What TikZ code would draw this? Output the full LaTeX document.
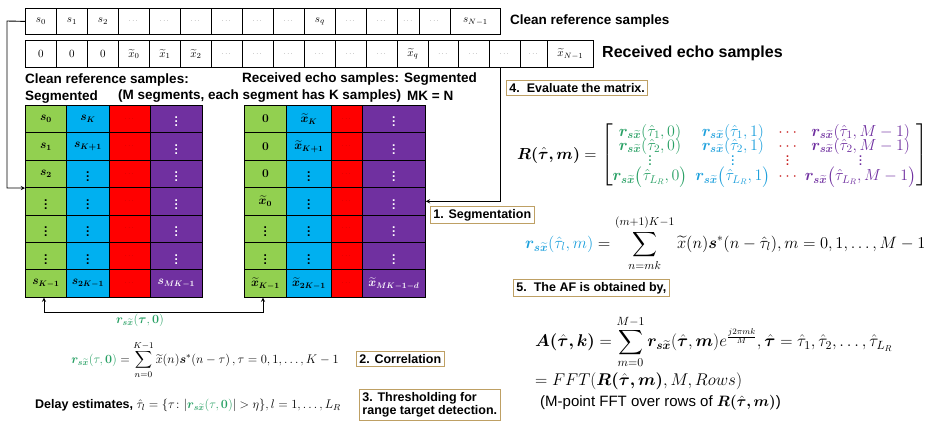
\documentclass[tikz,border=0pt]{standalone}
\usepackage{fix-cm}
\usepackage{fontspec}
\setmainfont{Liberation Sans}
\usepackage{amsmath,bm}
\usetikzlibrary{positioning}
\definecolor{cgreen}{RGB}{146,208,80}
\definecolor{cblue}{RGB}{0,176,240}
\definecolor{cred}{RGB}{255,0,0}
\definecolor{cpurple}{RGB}{112,48,160}
\definecolor{tgreen}{RGB}{40,160,100}
\definecolor{tblue}{RGB}{30,160,220}
\definecolor{tred}{RGB}{200,30,30}
\definecolor{tpurple}{RGB}{112,48,160}
\definecolor{boxtan}{RGB}{190,160,100}
\tikzset{
  cell/.style={draw, line width=0.8pt, inner sep=0pt, anchor=north west, font=\fontsize{11}{12}\selectfont},
  mcell/.style={draw, line width=0.8pt, inner sep=0pt, anchor=north west, font=\fontsize{12}{14}\selectfont, minimum height=27.4pt},
  stepbox/.style={draw=boxtan, line width=0.9pt, fill=white, inner sep=3pt, font=\bfseries\fontsize{12.5}{13.5}\selectfont, align=left},
  lbl/.style={font=\bfseries\fontsize{13.5}{15}\selectfont, inner sep=0pt, anchor=west},
  eq/.style={inner sep=0pt, anchor=west, font=\fontsize{16.5}{20}\selectfont},
  conn/.style={line width=0.9pt, ->, >=stealth}
}
\newcommand{\rsx}{\bm{r}_{\bm{s}\widetilde{\bm{x}}}}
\newcommand{\dts}{\tiny$\cdots$}
\begin{document}
\begin{tikzpicture}[x=1pt,y=-1pt]
\useasboundingbox (0,0) rectangle (941,426);
% raw sample strips
\foreach \i/\x/\w/\t in {1/25/31/{$s_0$},2/56/31/{$s_1$},3/87/31/{$s_2$},4/118/31/\dts,5/149/31/\dts,6/180/31/\dts,7/211/31/\dts,8/242/31/\dts,9/273/31/\dts,10/304/31/{$s_q$},11/335/31/\dts,12/366/31/\dts,13/397/22/\dts,14/419/31/\dts,15/450/50/{$s_{N-1}$}}
  \node[cell, minimum width=\w pt, minimum height=26pt] (t\i) at (\x,8) {\t};
\foreach \i/\x/\w/\t in {1/25/31/{$0$},2/56/31/{$0$},3/87/31/{$0$},4/118/31/{$\widetilde{x}_0$},5/149/31/{$\widetilde{x}_1$},6/180/31/{$\widetilde{x}_2$},7/211/31/\dts,8/242/31/\dts,9/273/31/\dts,10/304/31/\dts,11/335/31/\dts,12/366/31/\dts,13/397/31/{$\widetilde{x}_q$},14/428/30/\dts,15/458/31/\dts,16/489/31/\dts,17/520/27/\dts,18/547/46/{$\widetilde{x}_{N-1}$}}
  \node[cell, minimum width=\w pt, minimum height=27pt] (e\i) at (\x,40) {\t};
\node[lbl] (cleanlbl) at (510,21) {Clean reference samples};
\node[lbl, font=\bfseries\fontsize{16}{18}\selectfont] (echolbl) at (602,53) {Received echo samples};
% headings over the matrices
\node[lbl] (seglbl) at (25,80) {Clean reference samples:};
\node[lbl] at (25,97) {Segmented};
\node[lbl] at (118,96) {(M segments, each segment has K samples)};
\node[lbl] at (242,79) {Received echo samples: Segmented};
\node[lbl] at (407,96) {MK = N};
% segmented matrices
\foreach \r/\a/\b/\d in {1/{s_0}/{s_K}/{\vdots},2/{s_1}/{s_{K+1}}/{\vdots},3/{s_2}/{\vdots}/{\vdots},4/{\vdots}/{\vdots}/{\vdots},5/{\vdots}/{\vdots}/{\vdots},6/{\vdots}/{\vdots}/{\vdots},7/{s_{K-1}}/{s_{2K-1}}/{s_{MK-1}}} {
  \node[mcell, fill=cgreen, minimum width=41pt] (L\r a) at (25,105+27.4*\r-27.4) {$\bm{\a}$};
  \node[mcell, fill=cblue, minimum width=43pt] (L\r b) at (66,105+27.4*\r-27.4) {$\bm{\b}$};
  \node[mcell, fill=cred, text=red!55!black, minimum width=41pt] (L\r c) at (109,105+27.4*\r-27.4) {\dts};
  \node[mcell, fill=cpurple, text=white, minimum width=52pt] (L\r d) at (150,105+27.4*\r-27.4) {$\bm{\d}$};
}
\foreach \r/\a/\b/\d in {1/{0}/{\widetilde{x}_K}/{\vdots},2/{0}/{\widetilde{x}_{K+1}}/{\vdots},3/{0}/{\vdots}/{\vdots},4/{\widetilde{x}_0}/{\vdots}/{\vdots},5/{\vdots}/{\vdots}/{\vdots},6/{\vdots}/{\vdots}/{\vdots},7/{\widetilde{x}_{K-1}}/{\widetilde{x}_{2K-1}}/{\widetilde{x}_{MK-1-d}}} {
  \node[mcell, fill=cgreen, minimum width=42pt] (R\r a) at (244,105+27.4*\r-27.4) {$\bm{\a}$};
  \node[mcell, fill=cblue, minimum width=45pt] (R\r b) at (286,105+27.4*\r-27.4) {$\bm{\b}$};
  \node[mcell, fill=cred, text=red!55!black, minimum width=31pt] (R\r c) at (331,105+27.4*\r-27.4) {\dts};
  \node[mcell, fill=cpurple, text=white, minimum width=63pt] (R\r d) at (362,105+27.4*\r-27.4) {$\bm{\d}$};
}
% connectors
\coordinate (lturn) at (7,21);
\draw[conn] (t1.west) -- (lturn) |- (L3a.south west);
\coordinate (rturn) at (500,67);
\draw[conn] (rturn) |- (R4d.east);
\coordinate (bleft) at (44,312);
\coordinate (bright) at (263,312);
\draw[conn] (bleft) -- (bright) -- (bright |- R7a.south);
\draw[conn] (bleft) -- (bleft |- L7a.south);
\node[text=tgreen, inner sep=0pt, font=\fontsize{12.5}{14}\selectfont] (corrlbl) at (140,320) {$\rsx(\bm\tau,\bm0)$};
% steps
\node[stepbox, anchor=west] (s1) at (430,215) {1. Segmentation};
\node[stepbox, anchor=west] (s2) at (356,359) {2. Correlation};
\node[stepbox, anchor=west] (s3) at (359,405) {3. Thresholding for\\range target detection.};
\node[stepbox, anchor=west] (s4) at (506,88) {4.\ \ Evaluate the matrix.};
\node[stepbox, anchor=west] (s5) at (513,288) {5.\ \ The AF is obtained by,};
% equations
\node[eq, anchor=center, font=\fontsize{12.5}{14}\selectfont] (correq) at (205,360) {$\displaystyle {\color{tgreen}\rsx(\tau,\bm0)} = \sum_{n=0}^{K-1}\widetilde{x}(n)\bm{s}^*(n-\tau)\,,\tau=0,1,\dots,K-1$};
\node[lbl, font=\bfseries\fontsize{12.5}{14}\selectfont] (delay) at (35,405) {Delay estimates, $\hat\tau_l=\{\tau\colon|{\color{tgreen}\rsx(\tau,\bm0)}|>\eta\},l=1,\dots,L_R$};
\node[eq, font=\fontsize{16}{19}\selectfont] (Req) at (517,155) {\setlength{\arraycolsep}{4pt}$\bm{R(\hat{\tau},m)}=\left[\begin{array}{@{}cccc@{}}
{\color{tgreen}\rsx(\hat\tau_1,0)} & {\color{tblue}\rsx(\hat\tau_1,1)} & {\color{tred}\cdots} & {\color{tpurple}\rsx(\hat\tau_1,M-1)}\\[-5pt]
{\color{tgreen}\rsx(\hat\tau_2,0)} & {\color{tblue}\rsx(\hat\tau_2,1)} & {\color{tred}\cdots} & {\color{tpurple}\rsx(\hat\tau_2,M-1)}\\[-6pt]
{\color{tgreen}\vdots} & {\color{tblue}\vdots} & {\color{tred}\vdots} & {\color{tpurple}\vdots}\\[-5pt]
{\color{tgreen}\rsx\big(\hat\tau_{L_R},0\big)} & {\color{tblue}\rsx\big(\hat\tau_{L_R},1\big)} & {\color{tred}\cdots} & {\color{tpurple}\rsx\big(\hat\tau_{L_R},M-1\big)}
\end{array}\right]$};
\node[eq] (req) at (525,243) {$\displaystyle {\color{tblue}\rsx(\hat\tau_l,m)} = \sum_{n=mk}^{(m+1)K-1}\widetilde{x}(n)\bm{s}^*(n-\hat\tau_l),m=0,1,\dots,M-1$};
\node[eq, font=\fontsize{17}{20}\selectfont] (Aeq) at (535,342) {$\displaystyle \bm{A(\hat{\tau},k)} = \sum_{m=0}^{M-1}\rsx(\bm{\hat\tau},\bm m)e^{\frac{j2\pi mk}{M}},\bm{\hat\tau}=\hat\tau_1,\hat\tau_2,\dots,\hat\tau_{L_R}$};
\node[eq, font=\fontsize{17}{20}\selectfont] (fft) at (535,381) {$=FFT(\bm{R(\hat\tau,m)},M,Rows)$};
\node[eq, font=\fontsize{15}{17}\selectfont] (fftnote) at (540,403) {(M-point FFT over rows of $\bm{R(\hat\tau,m)}$)};
\end{tikzpicture}
\end{document}
